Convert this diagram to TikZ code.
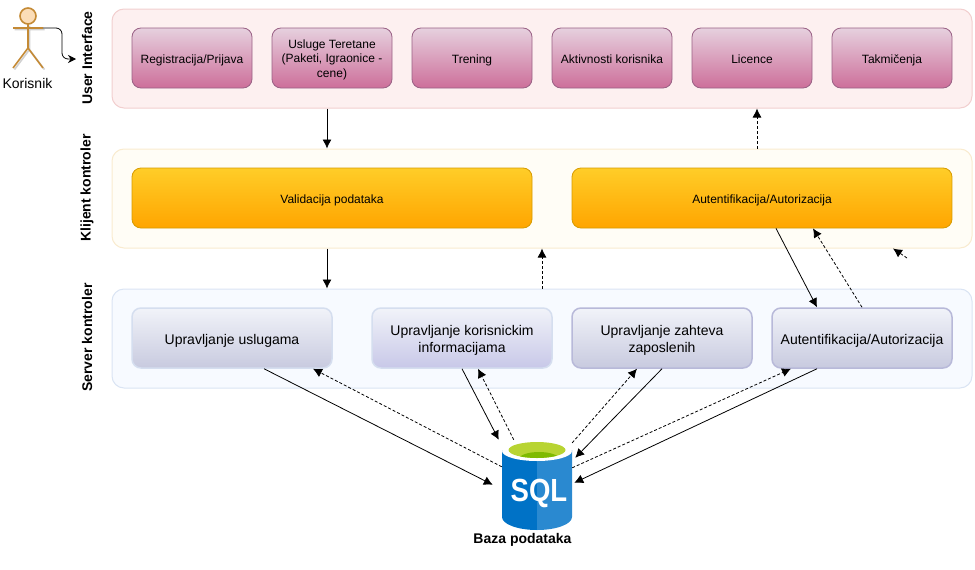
\documentclass[tikz,border=0pt]{standalone}
\usepackage{fontspec}
\setmainfont{Liberation Sans}
\usetikzlibrary{arrows.meta}

\definecolor{uiFill}{HTML}{FDF0F0}
\definecolor{uiEdge}{HTML}{F2CFCF}
\definecolor{klijentFill}{HTML}{FFFDF6}
\definecolor{klijentEdge}{HTML}{F9EBCF}
\definecolor{serverFill}{HTML}{F7FAFF}
\definecolor{serverEdge}{HTML}{DAE4F3}
\definecolor{actorEdge}{HTML}{C48A35}
\definecolor{actorFill}{HTML}{FBDDB8}
\definecolor{uiTop}{HTML}{E6D0DE}
\definecolor{uiBottom}{HTML}{CD6F9A}
\definecolor{uiBoxEdge}{HTML}{996185}
\definecolor{kTop}{HTML}{FFCD28}
\definecolor{kBottom}{HTML}{FFA500}
\definecolor{kEdge}{HTML}{D79B00}
\definecolor{sTop}{HTML}{F1F3F9}
\definecolor{sBottom}{HTML}{C8CADF}
\definecolor{sEdge}{HTML}{B8B9D9}
\definecolor{sLight}{HTML}{D5DEEF}
\definecolor{sViolet}{HTML}{C8C8E8}
\definecolor{bazaDark}{HTML}{0072C6}
\definecolor{bazaLight}{HTML}{2A89D0}
\definecolor{bazaGreen}{HTML}{B8D432}
\definecolor{bazaMoss}{HTML}{7FBA00}

\begin{document}
\begin{tikzpicture}[x=1pt,y=-1pt,
    small/.style={font=\fontsize{12}{14.4}\selectfont,text height=13pt,text depth=3pt},
    big/.style={font=\fontsize{14}{17}\selectfont,text height=16pt,text depth=4pt},
    twolines/.style={text height=32pt,text depth=4pt},
    threelines/.style={text height=41pt,text depth=3pt},
    panel/.style={draw,line width=1pt,rounded corners=12pt,minimum width=860pt,minimum height=99pt,inner sep=0pt},
    uibox/.style={small,draw=uiBoxEdge,line width=.8pt,rounded corners=9pt,top color=uiTop,bottom color=uiBottom,minimum width=120pt,minimum height=60pt,inner sep=1pt,align=center},
    kbox/.style={small,draw=kEdge,line width=.8pt,rounded corners=9pt,top color=kTop,bottom color=kBottom,minimum height=60pt,inner sep=1pt,align=center},
    sbox/.style={big,draw=sEdge,line width=1.5pt,rounded corners=9pt,top color=sTop,bottom color=sBottom,minimum height=60pt,inner sep=1pt,align=center},
    side/.style={font=\fontsize{14}{17}\selectfont\bfseries,rotate=90,inner sep=0pt},
    flow/.style={-{Latex[length=9pt,width=9pt]},line width=.8pt},
    back/.style={flow,densely dashed}]

    \useasboundingbox (0,0) rectangle (975,570);

    % slojevi
    \node[panel,draw=uiEdge,fill=uiFill] (uiPanel) at (542,58.5) {};
    \node[panel,draw=klijentEdge,fill=klijentFill] (klijentPanel) at (542,198.5) {};
    \node[panel,draw=serverEdge,fill=serverFill] (serverPanel) at (542,338.5) {};

    \node[side] (uiLabel) at (87,58) {User Interface};
    \node[side] (klijentLabel) at (87,188) {Klijent kontroler};
    \node[side] (serverLabel) at (87,337.5) {Server kontroler};

    \node[uibox] (registracija) at (192,58) {Registracija/Prijava};
    \node[uibox,threelines] (usluge) at (332,58) {Usluge Teretane\\(Paketi, Igraonice -\\cene)};
    \node[uibox] (trening) at (472,58) {Trening};
    \node[uibox] (aktivnosti) at (612,58) {Aktivnosti korisnika};
    \node[uibox] (licence) at (752,58) {Licence};
    \node[uibox] (takmicenja) at (892,58) {Takmičenja};

    \node[kbox,minimum width=400pt] (validacija) at (332,198) {Validacija podataka};
    \node[kbox,minimum width=380pt] (autentKlijent) at (762,198) {Autentifikacija/Autorizacija};

    \node[sbox,minimum width=200pt,draw=sLight] (uslugama) at (232,338) {Upravljanje uslugama};
    \node[sbox,twolines,minimum width=180pt,draw=sLight,bottom color=sViolet] (korisnicke) at (462,338) {Upravljanje korisnickim\\informacijama};
    \node[sbox,twolines,minimum width=180pt] (zahtevi) at (662,338) {Upravljanje zahteva\\zaposlenih};
    \node[sbox,minimum width=180pt] (autentServer) at (862,338) {Autentifikacija/Autorizacija};

    % korisnik
    \begin{scope}[shift={(1.5,1.5)},draw=black!18,line width=1.6pt]
    \draw (28,24)--(28,48) (13,28)--(43,28) (13,68)--(28,48)--(43,68);
    \end{scope}
    \draw[actorEdge,line width=1.6pt,fill=actorFill] (28,16) circle (8);
    \draw[actorEdge,line width=1.6pt] (28,24)--(28,48) (13,28)--(43,28) (13,68)--(28,48)--(43,68);
    \coordinate (ruka) at (43,28);
    \coordinate (ulaz) at (76,59);
    \node[font=\fontsize{14}{17}\selectfont,inner sep=0pt] (korisnik) at (27.5,83) {Korisnik};
    \draw[-{Stealth[length=8pt,width=8pt]},line width=.8pt,rounded corners=6pt] (ruka) -| (62,59) -- (ulaz);

    % baza
    \node[minimum width=70pt,minimum height=90pt,inner sep=0pt] (baza) at (537,485) {};
    \fill[bazaDark] (502,450) -- (537,450) -- (537,530) arc[start angle=-90,end angle=-180,x radius=35,y radius=-13] -- cycle;
    \fill[bazaLight] (537,450) -- (572,450) -- (572,517) arc[start angle=0,end angle=-90,x radius=35,y radius=-13] -- cycle;
    \fill[white] (537,451) ellipse (35 and 10);
    \fill[bazaGreen] (537,450) ellipse (28.5 and 8);
    \begin{scope}
    \clip (537,450) ellipse (28.5 and 8);
    \fill[bazaMoss] (539,459) ellipse (20 and 7);
    \end{scope}
    \node[white,font=\fontsize{32}{36}\selectfont\bfseries,inner sep=0pt] (sqlText) at (539,493) {\scalebox{.86}[1]{SQL}};
    \node[font=\fontsize{14}{17}\selectfont\bfseries,inner sep=0pt] (bazaLabel) at (522.5,540) {Baza podataka};

    % veze izmedju slojeva
    \draw[flow] ([xshift=-215pt]uiPanel.south) -- ([xshift=-215pt]klijentPanel.north);
    \draw[back] ([xshift=215pt]klijentPanel.north) -- ([xshift=215pt]uiPanel.south);
    \draw[flow] ([xshift=-215pt]klijentPanel.south) -- ([xshift=-215pt]serverPanel.north);
    \draw[back] (serverPanel.north) -- (klijentPanel.south);
    \draw[flow] ([xshift=14pt]autentKlijent.south) -- ([xshift=-45pt]autentServer.north);
    \draw[back] (autentServer.north) -- ([xshift=51pt]autentKlijent.south);
    \coordinate (kraj) at (907,258);
    \draw[back] (kraj) -- ([xshift=351pt]klijentPanel.south);

    % veze prema bazi
    \draw[flow] ([xshift=32pt]uslugama.south) -- ([shift={(-9,45)}]baza.north west);
    \draw[back] ([shift={(0,27)}]baza.north west) -- ([xshift=81pt]uslugama.south);
    \draw[flow] (korisnicke.south) -- ([xshift=-3pt]baza.north west);
    \draw[back] ([xshift=12pt]baza.north west) -- ([xshift=16pt]korisnicke.south);
    \draw[back] ([shift={(0,3)}]baza.north east) -- ([xshift=-25pt]zahtevi.south);
    \draw[flow] (zahtevi.south) -- ([shift={(3,18)}]baza.north east);
    \draw[back] ([shift={(0,28)}]baza.north east) -- ([xshift=-71pt]autentServer.south);
    \draw[flow] ([xshift=-45pt]autentServer.south) -- ([shift={(2,43)}]baza.north east);
    \end{tikzpicture}
\end{document}
